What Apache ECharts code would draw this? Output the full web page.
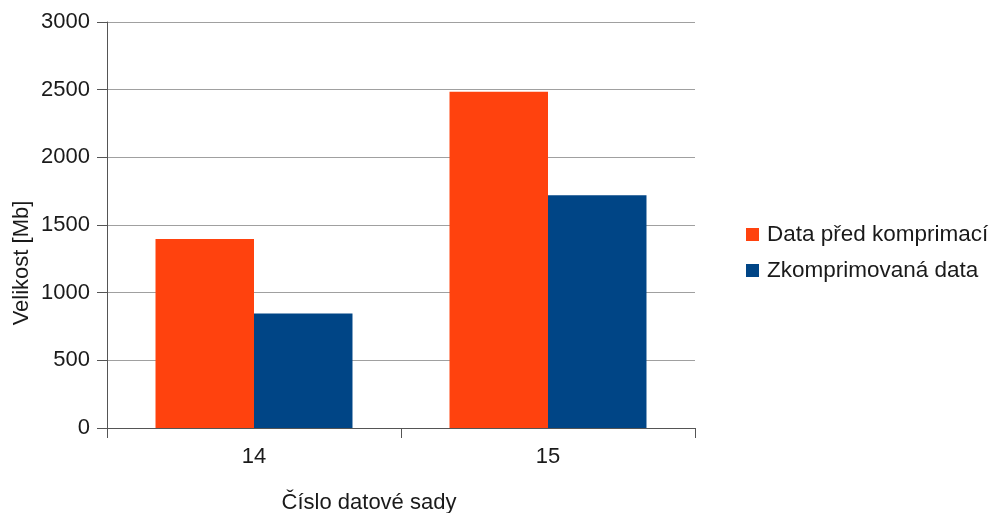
<!DOCTYPE html>
<html>
<head>
<meta charset="utf-8">
<script src="https://cdn.jsdelivr.net/npm/echarts@6/dist/echarts.min.js"></script>
<style>
  html, body { margin: 0; padding: 0; background: #fff; overflow: hidden; }
  #chart { width: 996px; height: 513px; }
</style>
</head>
<body>
<div id="chart"></div>
<script>
// Dataset numbers and sizes (Mb)
const categories = ['14', '15'];
const beforeCompression = [1396, 2485];
const afterCompression = [846, 1720];
const seriesNames = ['Data před komprimací', 'Zkomprimovaná data'];
const yTicks = { min: 0, max: 3000, step: 500 };

const font = 'Liberation Sans, Arial, sans-serif';
const textColor = '#1a1a1a';
const axisColor = '#555555';
const gridColor = '#a0a0a0';
const fontSize = 22;

const chart = echarts.init(document.getElementById('chart'), null, { renderer: 'canvas' });

chart.setOption({
  animation: false,
  backgroundColor: '#ffffff',
  textStyle: { fontFamily: font, color: textColor },
  grid: {
    left: 107, width: 588, top: 22, height: 406,
    containLabel: false,
    outerBoundsMode: 'none'
  },
  legend: {
    orient: 'vertical',
    left: 746,
    top: 223,
    padding: 0,
    itemWidth: 13,
    itemHeight: 13,
    itemGap: 13,
    icon: 'rect',
    textStyle: { fontFamily: font, fontSize: 22.5, color: textColor, padding: [0, 0, 0, 3] },
    data: seriesNames
  },
  xAxis: {
    type: 'category',
    data: categories,
    name: 'Číslo datové sady',
    nameLocation: 'middle',
    nameGap: 64,
    // title sits a little left of the plot centre
    nameTextStyle: { fontFamily: font, fontSize: fontSize, color: textColor, padding: [0, 64, 0, 0] },
    axisLine: { show: true, lineStyle: { color: axisColor, width: 1 } },
    axisTick: { show: true, length: 10, inside: false, lineStyle: { color: axisColor } },
    axisLabel: { fontFamily: font, fontSize: fontSize, color: textColor, margin: 18 },
    splitLine: { show: false }
  },
  yAxis: {
    type: 'value',
    min: yTicks.min,
    max: yTicks.max,
    interval: yTicks.step,
    name: 'Velikost [Mb]',
    nameLocation: 'middle',
    nameGap: 74,
    nameMoveOverlap: false,
    nameRotate: 90,
    // title sits a little below the plot centre
    nameTextStyle: { fontFamily: font, fontSize: fontSize, color: textColor, padding: [0, 76, 0, 0] },
    axisLine: { show: true, lineStyle: { color: axisColor, width: 1 } },
    axisTick: { show: true, length: 10, inside: false, lineStyle: { color: axisColor } },
    axisLabel: {
      fontFamily: font, fontSize: fontSize, color: textColor, margin: 17,
      formatter: (v) => String(v)
    },
    splitLine: { show: true, lineStyle: { color: gridColor, width: 1 } }
  },
  series: [
    {
      name: seriesNames[0],
      type: 'bar',
      data: beforeCompression,
      barGap: '0%',
      barCategoryGap: '33%',
      itemStyle: { color: '#ff420e' }
    },
    {
      name: seriesNames[1],
      type: 'bar',
      data: afterCompression,
      barGap: '0%',
      barCategoryGap: '33%',
      itemStyle: { color: '#004586' }
    }
  ]
});
</script>
</body>
</html>
